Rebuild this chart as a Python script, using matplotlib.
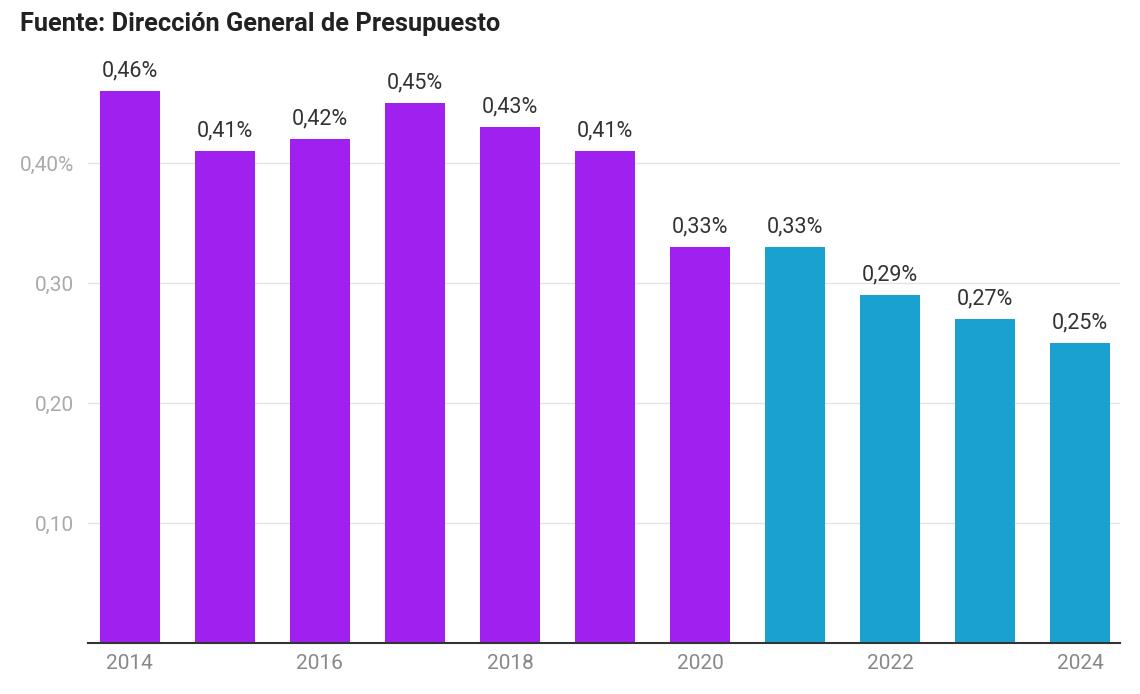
import matplotlib.pyplot as plt
from matplotlib.ticker import FixedLocator

plt.rcParams['font.family'] = ['Roboto', 'DejaVu Sans']

years = [2014, 2015, 2016, 2017, 2018, 2019, 2020, 2021, 2022, 2023, 2024]
values = [0.46, 0.41, 0.42, 0.45, 0.43, 0.41, 0.33, 0.33, 0.29, 0.27, 0.25]
colors = ['#A020F0'] * 7 + ['#1BA1CF'] * 4
ytick_vals = [0.10, 0.20, 0.30, 0.40]
ytick_labels = ['0,10', '0,20', '0,30', '0,40%']
xtick_years = [2014, 2016, 2018, 2020, 2022, 2024]

fig = plt.figure(figsize=(11.4, 6.94), dpi=100)
ax = fig.add_axes([0.0772, 0.0735, 0.9053, 0.8646])

x = list(range(len(years)))
ax.bar(x, values, width=0.63, color=colors, zorder=3)

for xi, v in zip(x, values):
    ax.text(xi, v + 0.008, ('%.2f' % v).replace('.', ',') + '%',
            ha='center', va='bottom', fontsize=15.5, color='#333333')

ax.set_xlim(-0.44, 10.42)
ax.set_ylim(0, 0.5)

ax.yaxis.set_major_locator(FixedLocator(ytick_vals))
ax.set_yticklabels(ytick_labels)
ax.set_xticks([years.index(y) for y in xtick_years])
ax.set_xticklabels([str(y) for y in xtick_years])

ax.tick_params(axis='y', length=0, pad=10, labelsize=15, labelcolor='#aaaaaa')
ax.tick_params(axis='x', length=0, pad=8, labelsize=15, labelcolor='#888888')

ax.grid(axis='y', color='#e4e4e4', linewidth=1, zorder=0)
for s in ['top', 'right', 'left']:
    ax.spines[s].set_visible(False)
ax.spines['bottom'].set_color('#333333')
ax.spines['bottom'].set_linewidth(1.5)
ax.spines['bottom'].set_zorder(4)

fig.text(0.0175, 0.965, 'Fuente: Dirección General de Presupuesto',
         fontsize=18.3, fontweight='bold', color='#222222', ha='left', va='center')

fig.savefig('out.png', dpi=100)
